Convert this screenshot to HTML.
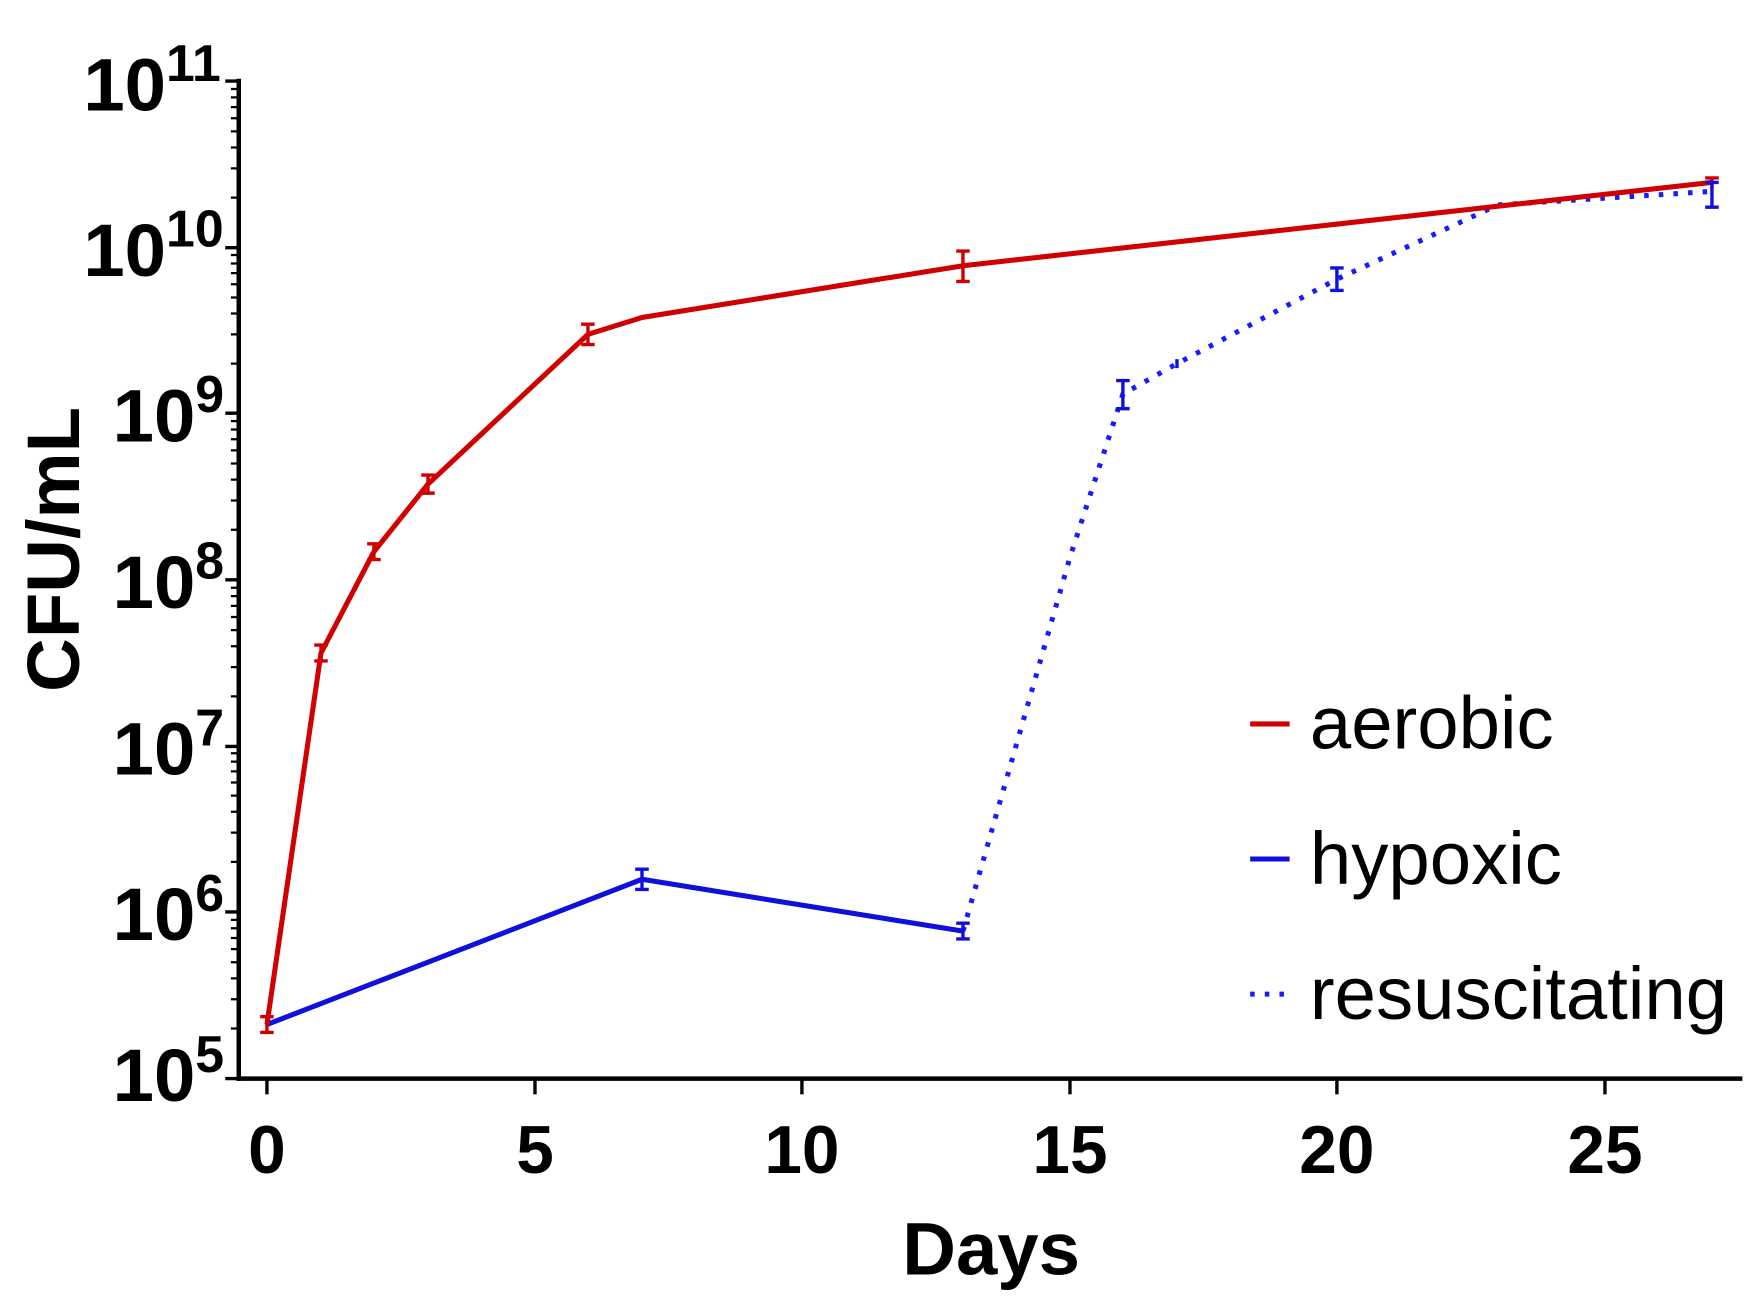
<!DOCTYPE html>
<html><head><style>html,body{margin:0;padding:0;background:#fff}svg{display:block}</style></head><body>
<svg width="1757" height="1315" viewBox="0 0 1560 1168" preserveAspectRatio="none" xmlns="http://www.w3.org/2000/svg" font-family="Liberation Sans, Arial, sans-serif">
<rect width="1560" height="1168" fill="#fff"/>
<g stroke="#000" stroke-width="4" fill="none">
<line x1="212" y1="70" x2="212" y2="960"/>
<line x1="210" y1="958" x2="1547" y2="958"/>
</g>
<g stroke="#000" stroke-width="3">
<line x1="200" y1="72" x2="212" y2="72"/><line x1="200" y1="220" x2="212" y2="220"/><line x1="200" y1="367" x2="212" y2="367"/><line x1="200" y1="515" x2="212" y2="515"/><line x1="200" y1="663" x2="212" y2="663"/><line x1="200" y1="810" x2="212" y2="810"/><line x1="200" y1="958" x2="212" y2="958"/>
<line x1="237" y1="958" x2="237" y2="972"/><line x1="475" y1="958" x2="475" y2="972"/><line x1="712" y1="958" x2="712" y2="972"/><line x1="950" y1="958" x2="950" y2="972"/><line x1="1187" y1="958" x2="1187" y2="972"/><line x1="1425" y1="958" x2="1425" y2="972"/>
</g>
<g stroke="#000" stroke-width="2">
<path d="M205 175.5h7M205 149.5h7M205 131h7M205 116.7h7M205 105h7M205 95.1h7M205 86.5h7M205 79h7
M205 323h7M205 297h7M205 278.5h7M205 264.2h7M205 252.5h7M205 242.6h7M205 234h7M205 226.5h7
M205 470.5h7M205 444.5h7M205 426h7M205 411.7h7M205 400h7M205 390.1h7M205 381.5h7M205 374h7
M205 618.5h7M205 592.5h7M205 574h7M205 559.7h7M205 548h7M205 538.1h7M205 529.5h7M205 522h7
M205 765.5h7M205 739.5h7M205 721h7M205 706.7h7M205 695h7M205 685.1h7M205 676.5h7M205 669h7
M205 913.5h7M205 887.5h7M205 869h7M205 854.7h7M205 843h7M205 833.1h7M205 824.5h7M205 817h7"/>
</g>
<g font-weight="bold" font-size="66" fill="#000">
<text x="74" y="98">10<tspan font-size="46" dy="-26">11</tspan></text>
<text x="74" y="245">10<tspan font-size="46" dy="-26">10</tspan></text>
<text x="100" y="392">10<tspan font-size="46" dy="-26">9</tspan></text>
<text x="100" y="540">10<tspan font-size="46" dy="-26">8</tspan></text>
<text x="100" y="688">10<tspan font-size="46" dy="-26">7</tspan></text>
<text x="100" y="835">10<tspan font-size="46" dy="-26">6</tspan></text>
<text x="100" y="978">10<tspan font-size="46" dy="-26">5</tspan></text>
</g>
<g font-weight="bold" font-size="60" text-anchor="middle">
<text x="237" y="1042">0</text><text x="475" y="1042">5</text><text x="712" y="1042">10</text><text x="950" y="1042">15</text><text x="1187" y="1042">20</text><text x="1425" y="1042">25</text>
<text x="880" y="1132" font-size="66">Days</text>
<text transform="translate(70,488) rotate(-90)" font-size="66">CFU/mL</text>
</g>
<polyline fill="none" stroke="#1a1aff" stroke-width="4.5" stroke-dasharray="4 9" points="855,827 950,495 997,350 1045,323 1187,248 1330,182 1520,170"/>
<polyline fill="none" stroke="#1010dd" stroke-width="4.5" points="237,910 570,781 855,827"/>
<polyline fill="none" stroke="#d00000" stroke-width="4.5" points="237,910 285,580 332,490 380,430 522,297 570,282 855,236 1520,162"/>
<g stroke="#d00000" stroke-width="3">
<path d="M237 903v14M231 903h12M231 917h12 M285 573v14M279 573h12M279 587h12 M332 483v14M326 483h12M326 497h12 M380 422v16M374 422h12M374 438h12 M522 288v18M516 288h12M516 306h12 M855 223v27M849 223h12M849 250h12 M1520 158v10M1514 158h12"/>
</g>
<g stroke="#1010dd" stroke-width="3">
<path d="M570 772v18M564 772h12M564 790h12 M855 820v14M849 820h12M849 834h12 M997 338v25M991 338h12M991 363h12 M1045 319v8 M1187 238v20M1181 238h12M1181 258h12 M1520 162v22M1514 162h12M1514 184h12"/>
</g>
<g stroke-width="4.5">
<line x1="1110" y1="643" x2="1145" y2="643" stroke="#d00000"/>
<line x1="1110" y1="763" x2="1145" y2="763" stroke="#1010dd"/>
<line x1="1110" y1="883" x2="1145" y2="883" stroke="#1a1aff" stroke-dasharray="4 9"/>
</g>
<g font-size="66" fill="#000">
<text x="1163" y="665">aerobic</text>
<text x="1163" y="785">hypoxic</text>
<text x="1163" y="905">resuscitating</text>
</g>
</svg>
</body></html>
